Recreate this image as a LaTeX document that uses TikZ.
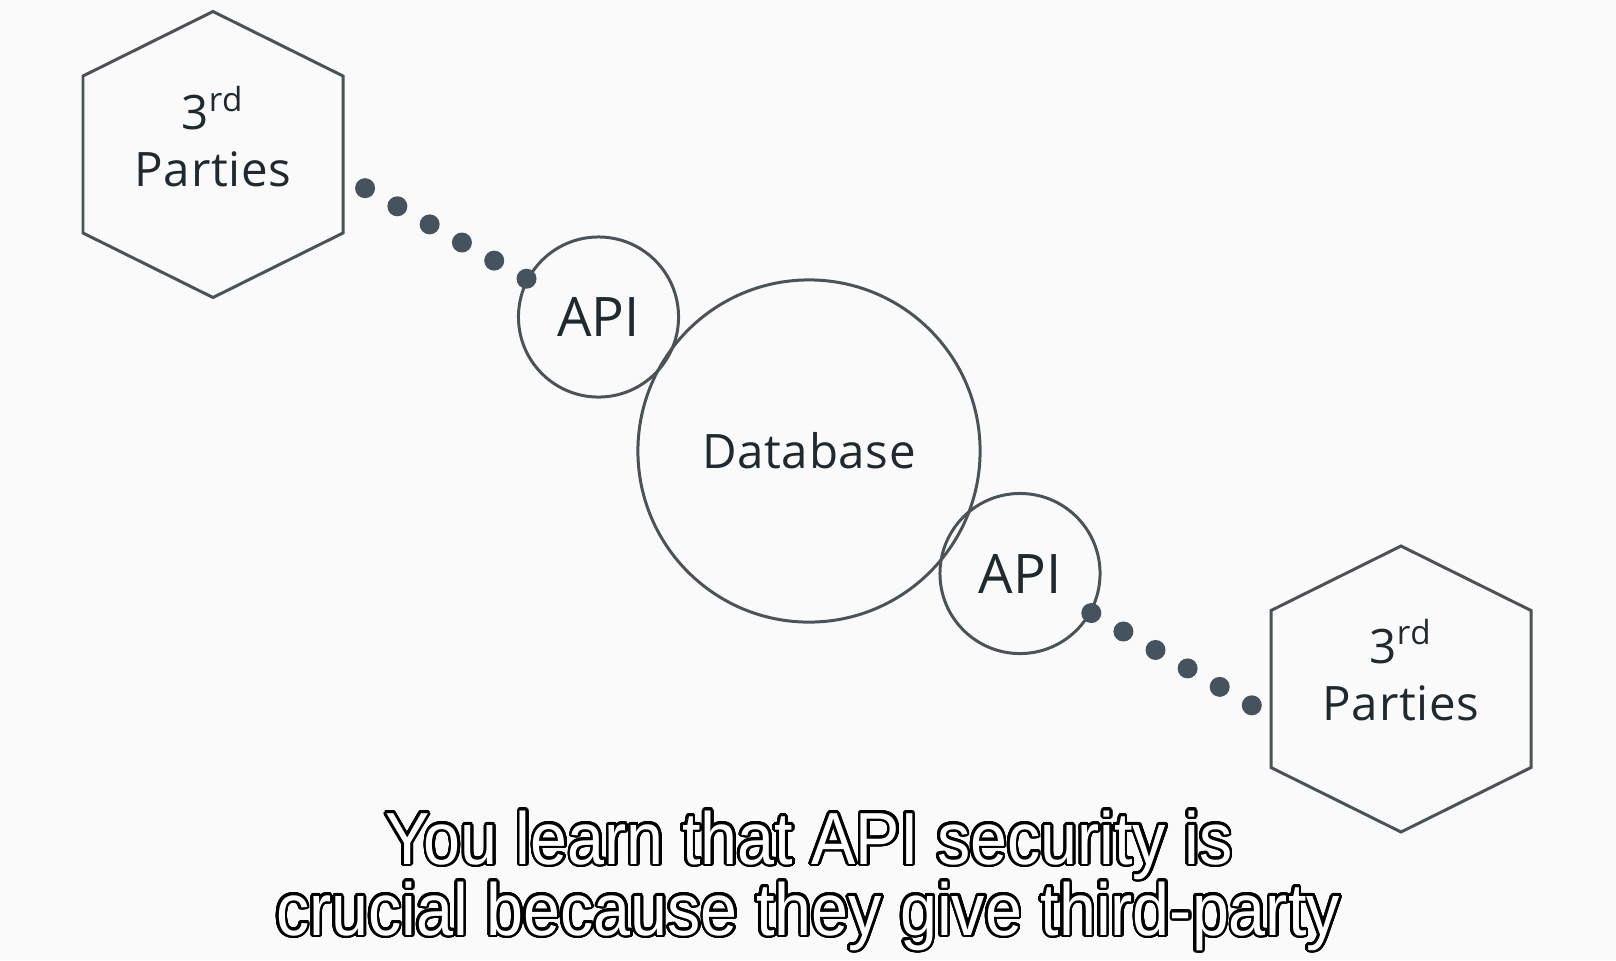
\documentclass[tikz,border=0pt]{standalone}
\usepackage{fontspec}
\setmainfont{Open Sans}
\newfontfamily\partyfont[LetterSpace=1.5]{Open Sans}
\newfontfamily\capfont[FakeStretch=0.9]{Liberation Sans}
\usepackage[copies]{contour}
\usetikzlibrary{calc}
\definecolor{ink}{HTML}{1E2A30}
\definecolor{edge}{HTML}{4B5358}
\definecolor{dotc}{HTML}{45535E}
\definecolor{paper}{HTML}{FAFAFA}
\contourlength{0.75pt}
\contournumber{32}

% six-sided frame round a centre point (units are pixels)
\newcommand{\hexframe}[1]{%
  \draw[hexline] ($(#1)+(0,-143)$) -- ++(130,64.5) -- ++(0,157) -- ++(-130,64.5)
    -- ++(-130,-64.5) -- ++(0,-157) -- cycle;}

\begin{document}
\begin{tikzpicture}[
  x=0.01cm, y=-0.01cm,
  hexline/.style={draw=edge, line width=0.85pt, line join=miter},
  ptext/.style={align=center, text=ink, font=\partyfont\fontsize{13.5}{16.2}\selectfont, inner sep=0pt},
  bubble/.style={circle, draw=edge, line width=0.85pt, inner sep=0pt, text=ink},
  api/.style={bubble, minimum size=1.6cm, font=\fontsize{15.5}{17}\selectfont},
  dots/.style={draw=dotc, line width=0.2cm, line cap=round, dash pattern=on 0pt off 0.37cm},
  subline/.style={text=white, font=\capfont\fontsize{21}{24}\selectfont, inner sep=0pt, anchor=base}
]
\fill[paper] (0,0) rectangle (1616,960);
\useasboundingbox (0,0) rectangle (1616,960);

\coordinate (hex1) at (213,154.5);
\coordinate (hex2) at (1401,689);
\hexframe{hex1}
\hexframe{hex2}
\node[ptext] (tp1) at ($(hex1)+(0,-18)$) {3\textsuperscript{rd}\\Parties};
\node[ptext] (tp2) at ($(hex2)+(0,-19)$) {3\textsuperscript{rd}\\Parties};

\node[bubble, minimum size=3.42cm, font=\partyfont\fontsize{13.5}{16}\selectfont] (db) at (809,451) {Database};
\node[api] (api1) at (598.5,317) {API};
\node[api] (api2) at (1020,573.5) {API};

\coordinate (d1) at ($(hex1)+(150,32.5)$);
\coordinate (d2) at ($(hex2)+(-148,17)$);
\draw[dots] (api1.152) -- (d1);
\draw[dots] (api2.-29) -- (d2);

\node[subline] (cap1) at (809,864) {\contour{black}{You learn that API security is}};
\node[subline] (cap2) at (808,935) {\contour{black}{crucial because they give third-party}};
\end{tikzpicture}
\end{document}
